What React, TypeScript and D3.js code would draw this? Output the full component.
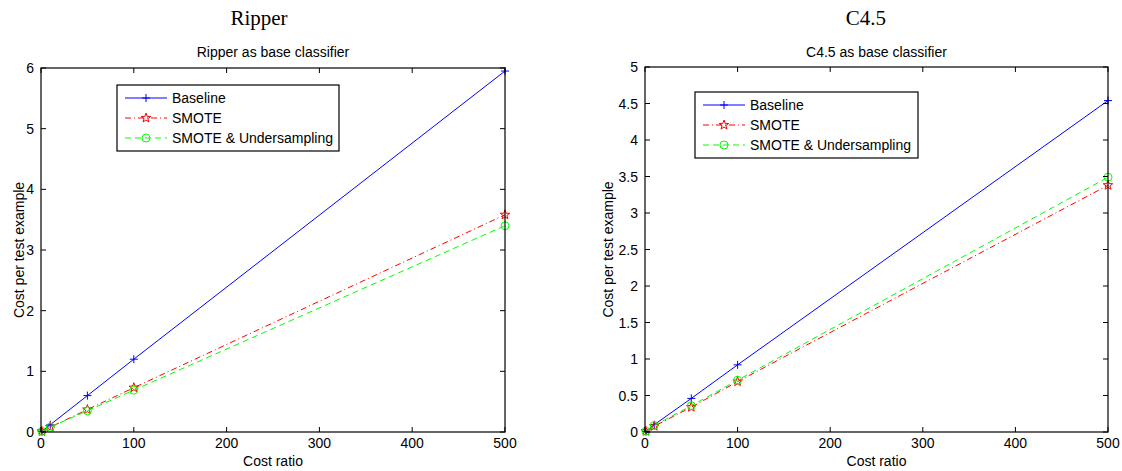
import React from "react";
import * as d3 from "d3";

const costRatios = [1, 10, 50, 100, 500];

const ripperBaseline = [0.012, 0.12, 0.6, 1.2, 5.95];
const ripperSmote = [0.01, 0.08, 0.37, 0.73, 3.58];
const ripperSmoteUnder = [0.01, 0.08, 0.35, 0.69, 3.4];

const c45Baseline = [0.01, 0.1, 0.46, 0.92, 4.54];
const c45Smote = [0.01, 0.08, 0.34, 0.69, 3.38];
const c45SmoteUnder = [0.01, 0.09, 0.36, 0.71, 3.49];

const xTicks = [0, 100, 200, 300, 400, 500];
const ripperYTicks = [0, 1, 2, 3, 4, 5, 6];
const c45YTicks = [0, 0.5, 1, 1.5, 2, 2.5, 3, 3.5, 4, 4.5, 5];

const seriesNames = ["Baseline", "SMOTE", "SMOTE & Undersampling"];
const seriesColors = ["#0000ff", "#ff0000", "#00ff00"];
const seriesDash = ["none", "6,3,1,3", "6,4"];
const seriesMarker = ["plus", "star", "circle"];

const font = "'Liberation Sans', Arial, Helvetica, sans-serif";
const fs = 14;

function starPath(cx: number, cy: number, r: number) {
  const ri = r * 0.4;
  const pts: string[] = [];
  for (let i = 0; i < 10; i++) {
    const a = -Math.PI / 2 + (i * Math.PI) / 5;
    const rr = i % 2 === 0 ? r : ri;
    pts.push(`${cx + rr * Math.cos(a)},${cy + rr * Math.sin(a)}`);
  }
  return "M" + pts.join("L") + "Z";
}

function Marker({ kind, x, y, color }: { kind: string; x: number; y: number; color: string }) {
  if (kind === "plus") {
    return (
      <path d={`M${x - 4},${y}H${x + 4}M${x},${y - 4}V${y + 4}`} stroke={color} strokeWidth={1} fill="none" />
    );
  }
  if (kind === "star") {
    return <path d={starPath(x, y, 5)} stroke={color} strokeWidth={1} fill="none" />;
  }
  return <circle cx={x} cy={y} r={4} stroke={color} strokeWidth={1} fill="none" />;
}

type PanelProps = {
  left: number;
  right: number;
  top: number;
  bottom: number;
  yMax: number;
  yTicks: number[];
  series: number[][];
  caption: string;
  captionX: number;
  subtitle: string;
  yLabelX: number;
  legend: { x: number; y: number; w: number; h: number };
};

function Panel(p: PanelProps) {
  const x = d3.scaleLinear().domain([0, 500]).range([p.left, p.right]);
  const y = d3.scaleLinear().domain([0, p.yMax]).range([p.bottom, p.top]);
  const line = d3
    .line<number>()
    .x((_, i) => x(costRatios[i]))
    .y((d) => y(d));
  const tl = 5;
  const cx = (p.left + p.right) / 2;
  const rowH = (p.legend.h - 6) / 3;
  return (
    <g>
      <text x={p.captionX} y={25} textAnchor="middle" fontFamily="'Liberation Serif', 'DejaVu Serif', serif" fontSize={21}>
        {p.caption}
      </text>
      <text x={cx} y={57} textAnchor="middle" fontFamily={font} fontSize={fs}>
        {p.subtitle}
      </text>
      {p.series.map((s, si) => (
        <g key={si}>
          <path
            d={line(s) || ""}
            fill="none"
            stroke={seriesColors[si]}
            strokeWidth={1}
            strokeDasharray={seriesDash[si]}
          />
          {s.map((v, i) => (
            <Marker key={i} kind={seriesMarker[si]} x={x(costRatios[i])} y={y(v)} color={seriesColors[si]} />
          ))}
        </g>
      ))}
      <rect x={p.left} y={p.top} width={p.right - p.left} height={p.bottom - p.top} fill="none" stroke="#000" strokeWidth={1.2} />
      {xTicks.map((t) => (
        <g key={"x" + t}>
          <line x1={x(t)} x2={x(t)} y1={p.bottom} y2={p.bottom - tl} stroke="#000" />
          <line x1={x(t)} x2={x(t)} y1={p.top} y2={p.top + tl} stroke="#000" />
          <text x={x(t)} y={p.bottom + 16} textAnchor="middle" fontFamily={font} fontSize={fs}>
            {t}
          </text>
        </g>
      ))}
      {p.yTicks.map((t) => (
        <g key={"y" + t}>
          <line x1={p.left} x2={p.left + tl} y1={y(t)} y2={y(t)} stroke="#000" />
          <line x1={p.right} x2={p.right - tl} y1={y(t)} y2={y(t)} stroke="#000" />
          <text x={p.left - 7} y={y(t) + 5} textAnchor="end" fontFamily={font} fontSize={fs}>
            {t}
          </text>
        </g>
      ))}
      <text x={cx} y={466} textAnchor="middle" fontFamily={font} fontSize={fs}>
        Cost ratio
      </text>
      <text
        transform={`translate(${p.yLabelX},${(p.top + p.bottom) / 2}) rotate(-90)`}
        textAnchor="middle"
        fontFamily={font}
        fontSize={fs}
      >
        Cost per test example
      </text>
      <g>
        <rect x={p.legend.x} y={p.legend.y} width={p.legend.w} height={p.legend.h} fill="#fff" stroke="#000" strokeWidth={1.2} />
        {seriesNames.map((n, i) => {
          const ry = p.legend.y + 3 + rowH * (i + 0.5);
          const lx1 = p.legend.x + 8;
          const lx2 = p.legend.x + 50;
          return (
            <g key={n}>
              <line x1={lx1} x2={lx2} y1={ry} y2={ry} stroke={seriesColors[i]} strokeDasharray={seriesDash[i]} />
              <Marker kind={seriesMarker[i]} x={(lx1 + lx2) / 2} y={ry} color={seriesColors[i]} />
              <text x={p.legend.x + 55} y={ry + 5} fontFamily={font} fontSize={fs}>
                {n}
              </text>
            </g>
          );
        })}
      </g>
    </g>
  );
}

export default function App() {
  return (
    <svg width={1122} height={471} style={{ position: "absolute", left: 0, top: 0, background: "#fff" }}>
      <Panel
        left={41}
        right={505}
        top={68}
        bottom={432}
        yMax={6}
        yTicks={ripperYTicks}
        series={[ripperBaseline, ripperSmote, ripperSmoteUnder]}
        caption="Ripper"
        captionX={259}
        subtitle="Ripper as base classifier"
        yLabelX={24}
        legend={{ x: 117, y: 85, w: 222, h: 66 }}
      />
      <Panel
        left={645}
        right={1108}
        top={67}
        bottom={432}
        yMax={5}
        yTicks={c45YTicks}
        series={[c45Baseline, c45Smote, c45SmoteUnder]}
        caption="C4.5"
        captionX={866}
        subtitle="C4.5 as base classifier"
        yLabelX={613}
        legend={{ x: 695, y: 92, w: 223, h: 66 }}
      />
    </svg>
  );
}
